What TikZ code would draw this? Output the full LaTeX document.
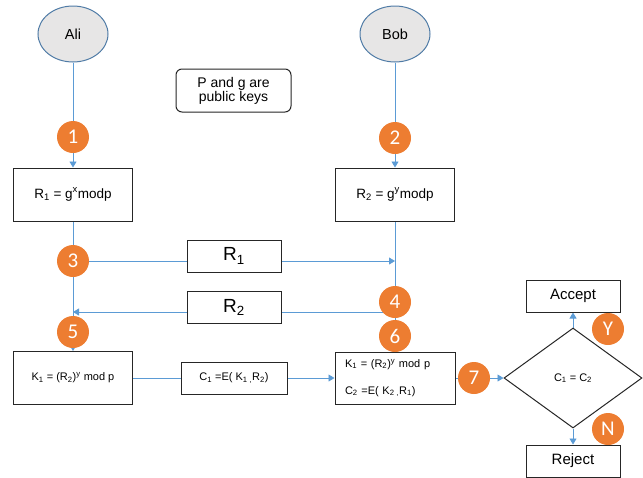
\documentclass[tikz,border=0pt]{standalone}
\usepackage{fontspec}
\setmainfont{Liberation Sans}
\newfontfamily\numfont{Carlito}
\usetikzlibrary{shapes.geometric,arrows.meta,backgrounds}
\definecolor{lineblue}{HTML}{5B9BD5}
\definecolor{steporange}{HTML}{ED7D31}
\definecolor{personfill}{HTML}{E7E6E6}
\definecolor{persondraw}{HTML}{4F7BA6}
\definecolor{boxdraw}{HTML}{262626}
\newcommand{\fs}[1]{\fontsize{#1}{#1}\selectfont}
\tikzset{
  flow/.style={draw=lineblue, line width=0.8pt},
  arr/.style={flow, -{Triangle[length=6pt,width=7pt]}},
  person/.style={ellipse, draw=persondraw, line width=1pt, fill=personfill,
    minimum width=70pt, minimum height=56pt, inner sep=0pt, font=\fs{14.5}},
  stepnum/.style={circle, fill=steporange, text=white, minimum size=32pt,
    inner sep=0pt, font=\numfont\fs{21}},
  box/.style={draw=boxdraw, line width=1pt, fill=white, inner sep=0pt,
    align=center},
  bigbox/.style={box, minimum width=119pt, minimum height=53pt, font=\fs{13.5}},
  labelbox/.style={box, minimum width=94pt, minimum height=32pt, font=\fs{19}},
  smallbox/.style={box, font=\fs{11}},
  outbox/.style={box, minimum width=94pt, minimum height=32pt, font=\fs{15}},
}
\begin{document}
\begin{tikzpicture}[x=1pt,y=-1pt]
\useasboundingbox (0,0) rectangle (643,477);

% the two parties
\node[person] (ali) at (73,34) {Ali};
\node[person] (bob) at (395,34) {Bob};

% note on the shared values
\node[box, rounded corners=6pt, minimum width=115pt, minimum height=43pt,
  font=\fs{14}, align=center] (pub) at (233.5,90.5) {P and g are\\public keys};

% public values
\node[bigbox] (r1) at (73,194.5) {R\textsubscript{1} = g\textsuperscript{x}modp};
\node[bigbox] (r2) at (395,194.5) {R\textsubscript{2} = g\textsuperscript{y}modp};

% exchanged values
\node[labelbox] (lr1) at (234,256) {R\textsubscript{1}};
\node[labelbox] (lr2) at (234,307.5) {R\textsubscript{2}};

% key computation and encryption
\node[bigbox, font=\fs{11}] (k1) at (73,378) {K\textsubscript{1} = (R\textsubscript{2})\textsuperscript{y} mod p};
\node[smallbox, minimum width=106pt, minimum height=32pt] (e1) at (234,378)
  {C\textsubscript{1} =E( K\textsubscript{1}\,\textsubscript{,}R\textsubscript{2})};
\node[box, minimum height=52pt, text width=100pt, inner xsep=10pt, align=left,
  font=\fontsize{11}{27}\selectfont] (kc) at (395,378)
  {K\textsubscript{1} = (R\textsubscript{2})\textsuperscript{y} mod p\\
   C\textsubscript{2} =E( K\textsubscript{2}\,\textsubscript{,}R\textsubscript{1})};

% comparison and outcomes
\node[diamond, draw=boxdraw, line width=1pt, fill=white, aspect=1.38,
  minimum width=138pt, minimum height=100pt, inner sep=0pt, font=\fs{11}]
  (cmp) at (573,378) {C\textsubscript{1} = C\textsubscript{2}};
\node[outbox] (acc) at (573,296) {Accept};
\node[outbox] (rej) at (573,461) {Reject};

% step markers
\node[stepnum] (s1) at (73,137) {1};
\node[stepnum] (s2) at (395,138) {2};
\node[stepnum] (s3) at (73,261) {3};
\node[stepnum] (s4) at (395,302) {4};
\node[stepnum] (s5) at (73,332) {5};
\node[stepnum] (s6) at (395,336) {6};
\node[stepnum] (s7) at (474,378) {7};
\node[stepnum] (sy) at (608,329) {Y};
\node[stepnum] (sn) at (608,429) {N};

% junctions on the vertical lines
\coordinate (m1) at (395,261);
\coordinate (m2) at (395,312);
\coordinate (m3) at (73,312);

\begin{pgfonlayer}{background}
  \draw[flow] (ali.south) -- (s1.center);
  \draw[arr] (s1.center) -- (r1.north);
  \draw[flow] (bob.south) -- (s2.center);
  \draw[arr] (s2.center) -- (r2.north);
  \draw[flow] (r1.south) -- (s5.center);
  \draw[arr] (s5.center) -- (k1.north);
  \draw[flow] (r2.south) -- (s6.center);
  \draw[arr] (s6.center) -- (kc.north);
  \draw[arr] (s3.center) -- (m1);
  \draw[arr] (m2) -- (m3);
  \draw[flow] (k1.east) -- (e1.west);
  \draw[arr] (e1.east) -- (kc.west);
  \draw[flow] (kc.east) -- (s7.center);
  \draw[arr] (s7.center) -- (cmp.west);
  \draw[arr] (cmp.north) -- (acc.south);
  \draw[arr] (cmp.south) -- (rej.north);
\end{pgfonlayer}
\end{tikzpicture}
\end{document}
